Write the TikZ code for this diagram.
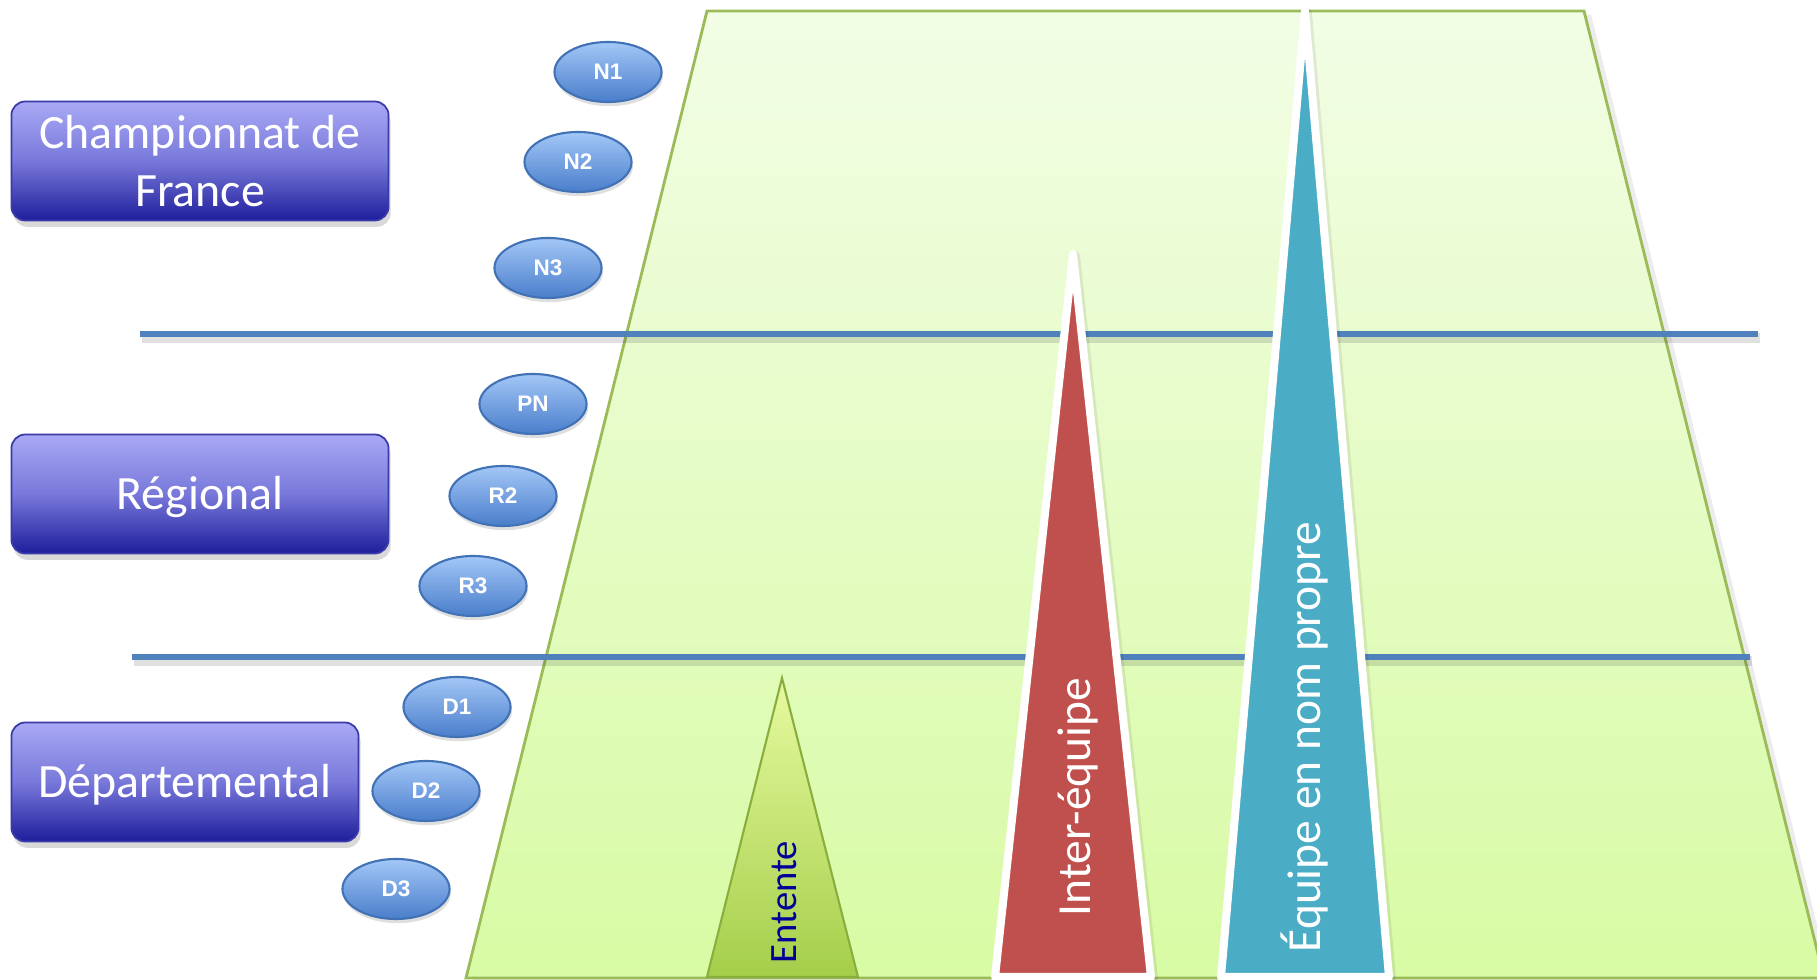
\documentclass[tikz,border=0pt]{standalone}
\usepackage{fontspec}
\setmainfont{Carlito}
\newfontfamily\arialfont{Liberation Sans}
\usepackage{tikz}
\usetikzlibrary{shapes.geometric,shadows}

\definecolor{vertbord}{HTML}{9BBB59}
\definecolor{verthaut}{HTML}{F2FDE5}
\definecolor{vertbas}{HTML}{D8FBA4}
\definecolor{lignebleue}{HTML}{4F81BD}
\definecolor{rouge}{HTML}{C0504D}
\definecolor{turquoise}{HTML}{4BACC6}
\definecolor{ententehaut}{HTML}{E6FAA0}
\definecolor{ententebas}{HTML}{A5CE4A}
\definecolor{ententebord}{HTML}{8AAE3E}
\definecolor{marine}{HTML}{000099}
\definecolor{violethaut}{HTML}{A9A9F6}
\definecolor{violetmilieu}{HTML}{7878DA}
\definecolor{violetbas}{HTML}{1E1E9C}
\definecolor{violetbord}{HTML}{3A3AA8}
\definecolor{ovalehaut}{HTML}{A3C7F7}
\definecolor{ovalebas}{HTML}{4A7ECB}
\definecolor{ovalebord}{HTML}{4272B6}

\begin{document}
\begin{tikzpicture}[x=0.01cm,y=-0.01cm,
        niveau/.style={rectangle,rounded corners=0.14cm,draw=violetbord,line width=0.5pt,top color=violethaut,bottom color=violetbas,middle color=violetmilieu,text=white,align=center,font=\fontsize{13.6}{16.4}\selectfont,minimum height=1.19cm,drop shadow={opacity=0.3,shadow xshift=0.6pt,shadow yshift=-1.8pt}},
        division/.style={ellipse,draw=ovalebord,line width=0.6pt,top color=ovalehaut,bottom color=ovalebas,text=white,inner sep=0pt,minimum width=1.07cm,minimum height=0.6cm,font=\arialfont\bfseries\fontsize{6.4}{7}\selectfont,drop shadow={opacity=0.25,shadow xshift=0.4pt,shadow yshift=-1.2pt}},
        separation/.style={lignebleue,line width=1.6pt},
        ombre/.style={black,opacity=0.12,line width=2.6pt},
        pointe/.style={draw=white,line width=0.08cm,line join=round},
        vertical/.style={rotate=90,anchor=base,font=\fontsize{13.5}{16}\selectfont}]
        \useasboundingbox (0, 0) rectangle (1817, 980);

        \draw[vertbord,line width=0.8pt,top color=verthaut,bottom color=vertbas,drop shadow={opacity=0.15,shadow xshift=2pt,shadow yshift=-1pt}] (707, 11) -- (1584, 11) -- (1824, 978) -- (466, 978) -- cycle;

        \draw[ombre] (142, 338) -- (1760, 338);
        \draw[separation] (140, 334) -- (1758, 334);
        \draw[ombre] (134, 661) -- (1752, 661);
        \draw[separation] (132, 657) -- (1750, 657);

        \draw[ententebord,line width=0.6pt,top color=ententehaut,bottom color=ententebas] (782, 678) -- (858, 977) -- (707, 977) -- cycle;

        \draw[black,opacity=0.08,line width=0.1cm,line join=round] (1075, 256) -- (1153, 979) -- (997, 979) -- cycle;
        \draw[pointe,fill=rouge] (1073, 254) -- (1151, 977) -- (995, 977) -- cycle;
        \draw[black,opacity=0.08,line width=0.1cm,line join=round] (1307, 13) -- (1391, 979) -- (1223, 979) -- cycle;
        \draw[pointe,fill=turquoise] (1305, 11) -- (1389, 977) -- (1221, 977) -- cycle;

        \node[vertical,text=marine,font=\fontsize{11}{13}\selectfont] (entente) at (796, 902) {Entente};
        \node[vertical,text=white] (inter) at (1090, 797) {Inter-équipe};
        \node[vertical,text=white] (propre) at (1320, 737) {Équipe en nom propre};

        \node[niveau,minimum width=3.77cm] (cdf) at (200, 161) {Championnat de\\France};
        \node[niveau,minimum width=3.77cm,text depth=0.05em] (reg) at (200, 494) {Régional};
        \node[niveau,minimum width=3.47cm,text depth=0.05em] (dep) at (185, 782) {Départemental};

        \node[division] (n1) at (608, 72) {N1};
        \node[division] (n2) at (578, 162) {N2};
        \node[division] (n3) at (548, 268) {N3};
        \node[division] (pn) at (533, 404) {PN};
        \node[division] (r2) at (503, 496) {R2};
        \node[division] (r3) at (473, 586) {R3};
        \node[division] (d1) at (457, 707) {D1};
        \node[division] (d2) at (426, 791) {D2};
        \node[division] (d3) at (396, 889) {D3};
\end{tikzpicture}
\end{document}
